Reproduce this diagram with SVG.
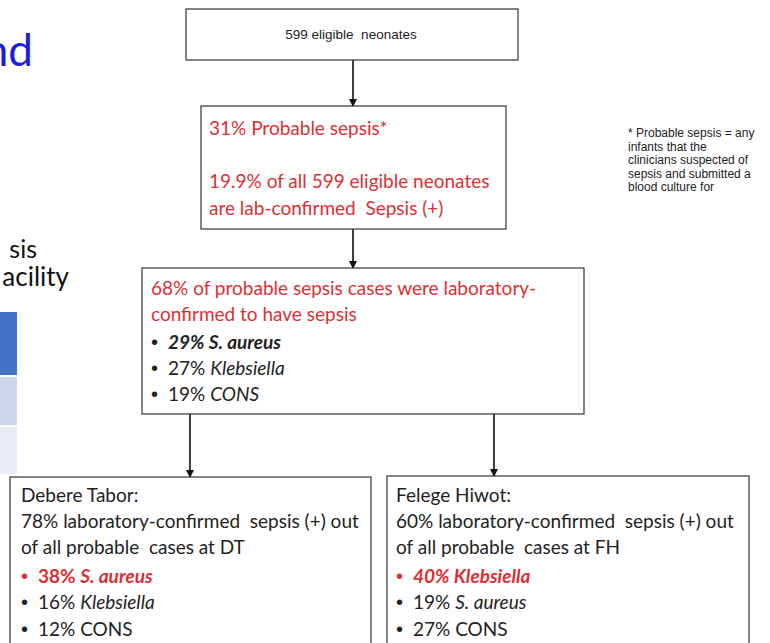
<svg xmlns="http://www.w3.org/2000/svg" width="770" height="643" viewBox="0 0 770 643">
<defs>
<marker id="ah" markerWidth="8" markerHeight="8" refX="7" refY="4" orient="auto" markerUnits="userSpaceOnUse">
<path d="M0,0 L8,4 L0,8 Z" fill="#111"/>
</marker>
<style>
.box{fill:#fff;stroke:#333;stroke-width:1.2}
.t{font-family:Lato,"Open Sans","Liberation Sans",sans-serif;font-size:19px;fill:#222}
.bu{font-family:"Liberation Sans",Arial,sans-serif;font-size:20px;fill:#222}
.r{fill:#dc2f33}
.i{font-style:italic}
.b{font-weight:bold}
.note{font-family:"Liberation Sans",Arial,sans-serif;font-size:12px;fill:#222}
.ar{font-family:"Liberation Sans",Arial,sans-serif;font-size:13.5px;fill:#222}
.conn{stroke:#111;stroke-width:1.6;fill:none;marker-end:url(#ah)}
</style>
</defs>
<rect width="770" height="643" fill="#fff"/>

<g id="slide-bg">
<text x="33" y="66" text-anchor="end" font-family="Lato,'Open Sans',sans-serif" font-size="44" fill="#1c1ce0">nd</text>
<text x="37" y="258" text-anchor="end" font-family="Lato,'Open Sans',sans-serif" font-size="25" fill="#111">sis</text>
<text x="69" y="286" text-anchor="end" font-family="Lato,'Open Sans',sans-serif" font-size="26" fill="#111">acility</text>
<rect x="0" y="312" width="17" height="63" fill="#4472c4"/>
<rect x="0" y="377" width="17" height="48" fill="#cfd5ea"/>
<rect x="0" y="427" width="17" height="47" fill="#e9ebf5"/>
</g>

<g id="connectors">
<line class="conn" x1="353" y1="60" x2="353" y2="106"/>
<line class="conn" x1="353" y1="229" x2="353" y2="268"/>
<line class="conn" x1="190" y1="414" x2="190" y2="477"/>
<line class="conn" x1="494" y1="414" x2="494" y2="476"/>
</g>

<g id="n-eligible">
<rect class="box" x="186" y="9" width="332" height="51"/>
<text class="ar" x="351" y="39" text-anchor="middle" xml:space="preserve">599 eligible  neonates</text>
</g>

<g id="n-probable">
<rect class="box" x="201" y="106" width="305" height="123"/>
<text class="t r" x="209" y="135">31% Probable sepsis*</text>
<text class="t r" x="209" y="188">19.9% of all 599 eligible neonates</text>
<text class="t r" x="209" y="215" xml:space="preserve">are lab-confirmed  Sepsis (+)</text>
</g>

<g id="n-note">
<text class="note" x="628" y="137">* Probable sepsis = any<tspan x="628" dy="13.6">infants that the</tspan><tspan x="628" dy="13.6">clinicians suspected of</tspan><tspan x="628" dy="13.6">sepsis and submitted a</tspan><tspan x="628" dy="13.6">blood culture for</tspan></text>
</g>

<g id="n-confirmed">
<rect class="box" x="142" y="268" width="442" height="146"/>
<text class="t r" x="151" y="295">68% of probable sepsis cases were laboratory-</text>
<text class="t r" x="151" y="321">confirmed to have sepsis</text>
<text class="bu" x="151" y="349">•</text><text class="t b i" x="168" y="349">29% S. aureus</text>
<text class="bu" x="151" y="375">•</text><text class="t" x="168" y="375">27% <tspan class="i">Klebsiella</tspan></text>
<text class="bu" x="151" y="401">•</text><text class="t" x="168" y="401">19% <tspan class="i">CONS</tspan></text>
</g>

<g id="n-debere">
<rect class="box" x="10" y="477" width="361" height="200"/>
<text class="t" x="21" y="502">Debere Tabor:</text>
<text class="t" x="21" y="528" xml:space="preserve">78% laboratory-confirmed  sepsis (+) out</text>
<text class="t" x="21" y="554" xml:space="preserve">of all probable  cases at DT</text>
<text class="bu r" x="21" y="583">•</text><text class="t r b" x="38" y="583">38% <tspan class="i">S. aureus</tspan></text>
<text class="bu" x="21" y="609">•</text><text class="t" x="38" y="609">16% <tspan class="i">Klebsiella</tspan></text>
<text class="bu" x="21" y="636">•</text><text class="t" x="38" y="636">12% CONS</text>
</g>

<g id="n-felege">
<rect class="box" x="387" y="476" width="362" height="200"/>
<text class="t" x="396" y="502">Felege Hiwot:</text>
<text class="t" x="396" y="528" xml:space="preserve">60% laboratory-confirmed  sepsis (+) out</text>
<text class="t" x="396" y="554" xml:space="preserve">of all probable  cases at FH</text>
<text class="bu r" x="396" y="583">•</text><text class="t r b i" x="413" y="583">40% Klebsiella</text>
<text class="bu" x="396" y="609">•</text><text class="t" x="413" y="609">19% <tspan class="i">S. aureus</tspan></text>
<text class="bu" x="396" y="636">•</text><text class="t" x="413" y="636">27% CONS</text>
</g>
</svg>
